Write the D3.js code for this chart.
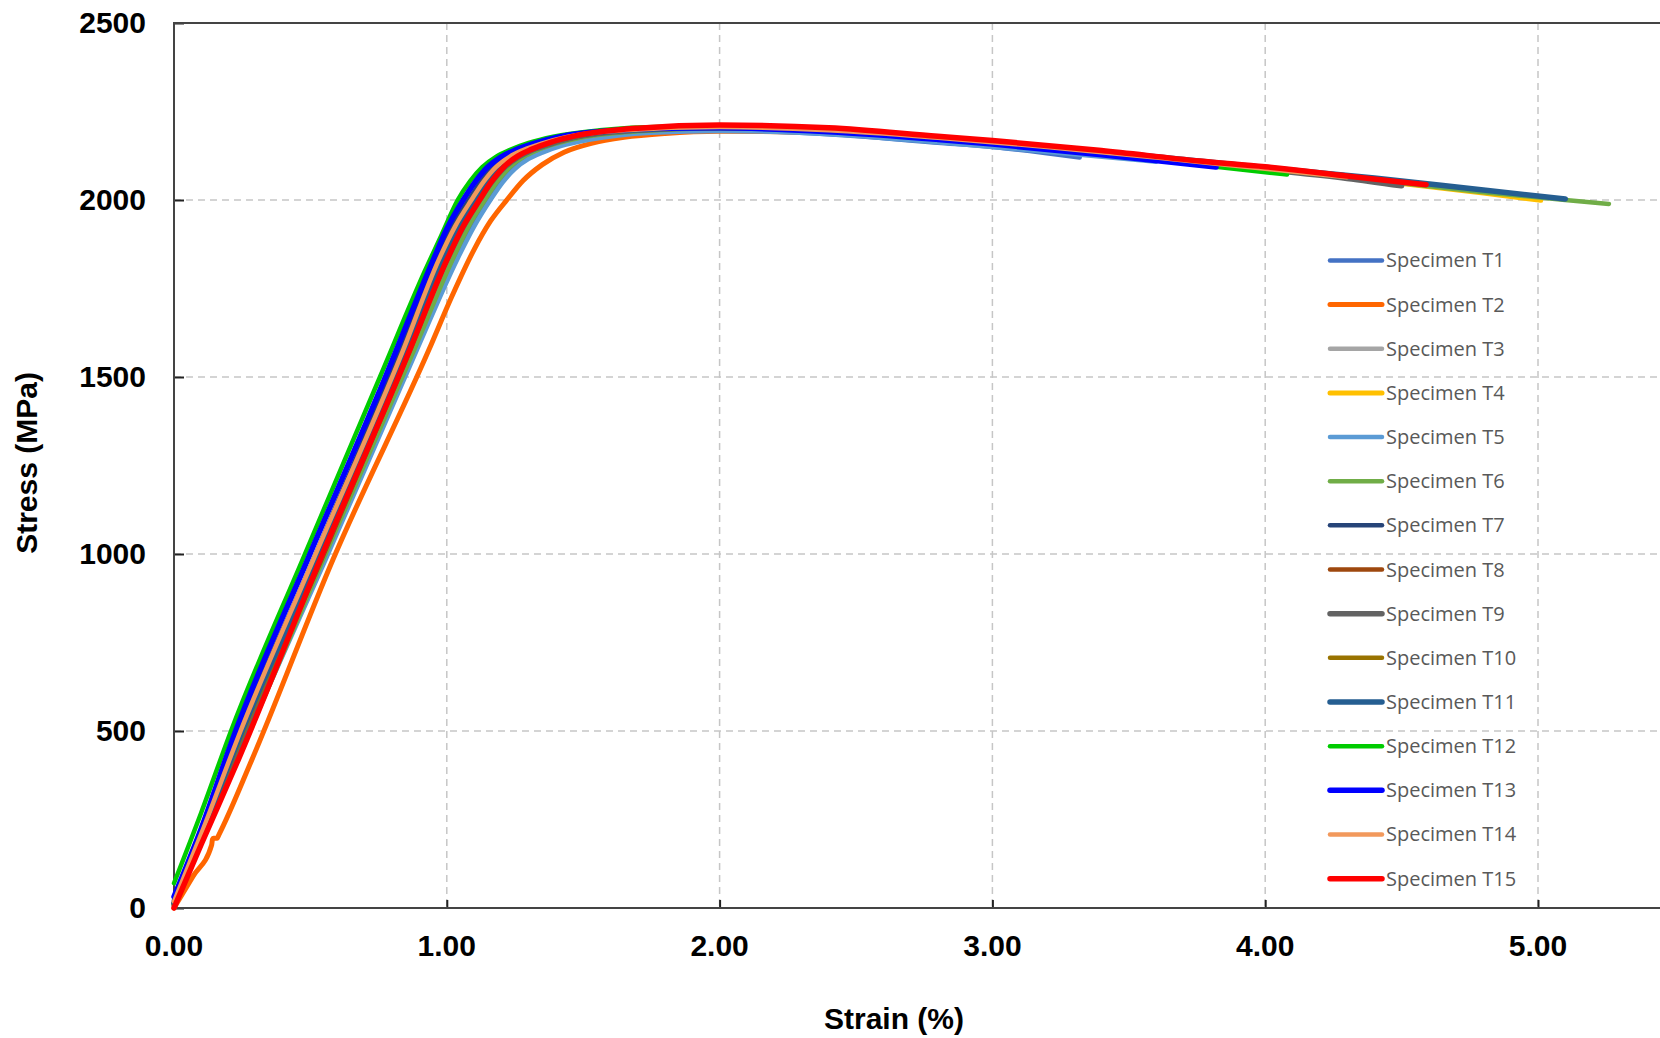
<!DOCTYPE html>
<html>
<head>
<meta charset="utf-8">
<script src="https://cdn.jsdelivr.net/npm/d3@7"></script>
<style>
  body { margin: 0; background: #fff; }
  svg { display: block; }
</style>
</head>
<body>
<svg id="chart" width="1660" height="1038"></svg>
<script>
// [strain %, stress MPa]
const T1 = [[0,5],[0.1,190],[0.27,500],[0.55,983],[0.885,1576],[1.03,1830],[1.09,1925],[1.15,2000],[1.195,2050],[1.24,2089],[1.29,2117],[1.34,2135],[1.41,2154],[1.5,2170],[1.74,2190],[2.0,2196],[2.4,2186],[2.8,2162],[3.0,2150],[3.32,2120]];
const T2 = [[0,0],[0.07,90],[0.138,178],[0.141,194],[0.145,197],[0.158,197],[0.164,206],[0.285,418],[0.582,983],[0.934,1576],[1.02,1730],[1.1,1860],[1.16,1940],[1.22,2000],[1.28,2055],[1.35,2100],[1.43,2135],[1.53,2160],[1.65,2177],[1.8,2188],[2.0,2194],[2.4,2190],[2.8,2170],[3.2,2144],[3.7,2108]];
const T3 = [[0,12],[0.1,198],[0.262,500],[0.54,983],[0.87,1576],[1.01,1830],[1.07,1925],[1.13,2000],[1.175,2051],[1.22,2091],[1.27,2120],[1.32,2139],[1.39,2158],[1.48,2176],[1.7,2195],[2.0,2202],[2.4,2194],[2.8,2172],[3.2,2146],[3.6,2116],[3.9,2094]];
const T4 = [[0,10],[0.1,200],[0.255,500],[0.53,983],[0.855,1576],[0.99,1830],[1.05,1925],[1.11,2000],[1.155,2051],[1.2,2091],[1.25,2120],[1.3,2139],[1.37,2158],[1.46,2176],[1.66,2195],[2.0,2203],[2.4,2195],[2.8,2174],[3.2,2148],[3.6,2119],[4.0,2088],[4.4,2056],[4.8,2020],[5.01,1999]];
const T5 = [[0,4],[0.1,188],[0.275,500],[0.555,983],[0.89,1576],[1.04,1835],[1.1,1925],[1.16,2000],[1.205,2050],[1.25,2088],[1.3,2116],[1.35,2134],[1.42,2153],[1.52,2170],[1.75,2190],[2.0,2195],[2.4,2186],[2.8,2163],[3.2,2136],[3.6,2108]];
const T6 = [[0,8],[0.1,190],[0.278,500],[0.546,983],[0.88,1576],[1.02,1830],[1.08,1925],[1.14,2000],[1.185,2052],[1.23,2092],[1.28,2121],[1.33,2140],[1.4,2159],[1.49,2176],[1.72,2195],[2.0,2203],[2.4,2195],[2.8,2174],[3.2,2148],[3.6,2118],[4.0,2088],[4.4,2056],[4.8,2022],[5.1,2000],[5.26,1989]];
const T7 = [[0,22],[0.1,212],[0.24,500],[0.51,983],[0.83,1576],[0.96,1830],[1.02,1925],[1.08,2000],[1.125,2052],[1.17,2093],[1.22,2122],[1.27,2141],[1.34,2160],[1.43,2178],[1.64,2197],[2.0,2205],[2.4,2197],[2.8,2176],[3.2,2150],[3.6,2120],[4.0,2090],[4.4,2058]];
const T8 = [[0,8],[0.1,195],[0.265,500],[0.54,983],[0.865,1576],[1.0,1830],[1.06,1925],[1.12,2000],[1.165,2052],[1.21,2092],[1.26,2121],[1.31,2140],[1.38,2159],[1.47,2177],[1.68,2196],[2.0,2204],[2.4,2196],[2.8,2174],[3.2,2148],[3.6,2118]];
const T9 = [[0,12],[0.1,200],[0.26,500],[0.535,983],[0.86,1576],[1.0,1830],[1.06,1924],[1.12,2000],[1.165,2051],[1.21,2091],[1.26,2120],[1.31,2140],[1.38,2158],[1.47,2177],[1.68,2196],[2.0,2204],[2.4,2196],[2.8,2174],[3.2,2148],[3.6,2118],[4.0,2086],[4.3,2061],[4.5,2040]];
const T10 = [[0,14],[0.1,202],[0.255,500],[0.53,983],[0.855,1576],[0.99,1830],[1.05,1925],[1.11,2000],[1.155,2052],[1.2,2092],[1.25,2121],[1.3,2140],[1.37,2159],[1.46,2177],[1.66,2196],[2.0,2204],[2.4,2196],[2.8,2175],[3.2,2149],[3.6,2119],[4.0,2089],[4.2,2073]];
const T11 = [[0,15],[0.1,205],[0.25,500],[0.525,983],[0.845,1576],[0.98,1830],[1.04,1925],[1.1,2000],[1.145,2052],[1.19,2093],[1.24,2122],[1.29,2141],[1.36,2160],[1.45,2178],[1.66,2197],[2.0,2205],[2.4,2198],[2.8,2177],[3.2,2151],[3.6,2122],[4.0,2092],[4.4,2062],[4.8,2028],[5.1,2003]];
const T12 = [[0,70],[0.1,270],[0.209,500],[0.48,1000],[0.755,1500],[0.92,1800],[0.98,1900],[1.04,2000],[1.085,2053],[1.13,2093],[1.18,2122],[1.23,2141],[1.3,2161],[1.39,2179],[1.56,2197],[1.8,2207],[2.0,2208],[2.4,2196],[2.8,2174],[3.2,2146],[3.6,2114],[3.82,2094],[4.08,2072]];
const T13 = [[0,32],[0.1,225],[0.226,500],[0.49,985],[0.775,1500],[0.95,1830],[1.0,1918],[1.06,2000],[1.105,2052],[1.15,2093],[1.2,2122],[1.25,2141],[1.32,2160],[1.41,2178],[1.6,2196],[1.8,2203],[2.0,2204],[2.4,2193],[2.8,2171],[3.0,2158],[3.4,2128],[3.82,2093]];
const T14 = [[0,18],[0.1,210],[0.244,500],[0.51,983],[0.84,1576],[0.97,1830],[1.03,1925],[1.09,2000],[1.135,2052],[1.18,2093],[1.23,2122],[1.28,2141],[1.35,2160],[1.44,2178],[1.65,2197],[2.0,2206],[2.4,2197],[2.8,2176],[3.2,2150],[3.6,2120],[4.0,2088],[4.3,2064]];
const T15 = [[0,0],[0.1,180],[0.235,418],[0.535,983],[0.864,1576],[1.0,1830],[1.06,1925],[1.12,2000],[1.165,2053],[1.21,2094],[1.26,2124],[1.31,2143],[1.38,2163],[1.47,2181],[1.7,2203],[2.0,2212],[2.4,2204],[2.8,2180],[3.0,2168],[3.4,2140],[3.76,2110],[4.0,2094],[4.3,2068],[4.59,2043]];

const names = ['Specimen T1','Specimen T2','Specimen T3','Specimen T4','Specimen T5','Specimen T6','Specimen T7','Specimen T8',
  'Specimen T9','Specimen T10','Specimen T11','Specimen T12','Specimen T13','Specimen T14','Specimen T15'];
const xTicks = [0, 1, 2, 3, 4, 5];
const yTicks = [0, 500, 1000, 1500, 2000, 2500];

const curves = [T1, T2, T3, T4, T5, T6, T7, T8, T9, T10, T11, T12, T13, T14, T15];
const colors = ['#4472C4','#FF6600','#A5A5A5','#FFC000','#5B9BD5','#70AD47','#264478','#9E480E',
  '#636363','#997300','#255E91','#00CC00','#0000FF','#F2995C','#FF0000'];
const widths = [4.5, 5, 4.5, 5, 4.5, 4.5, 4.5, 4.5, 5.5, 4.5, 5.5, 4.5, 5.5, 4.5, 5.5];

var svg = d3.select('#chart'),
    plotL = 174, plotT = 23, plotB = 908;

var x = d3.scaleLinear().domain([0, 5]).range([plotL, 1538]);
var y = d3.scaleLinear().domain([0, 2500]).range([plotB, plotT]);

var tickFont = 'bold 30px "Liberation Sans", Arial, sans-serif';

// grid
svg.append('g')
  .selectAll('line')
  .data(yTicks.slice(1, -1))
  .enter().append('line')
  .attr('x1', plotL).attr('x2', 1660)
  .attr('y1', d => y(d)).attr('y2', d => y(d))
  .attr('stroke', '#c6c6c6').attr('stroke-width', 1.5).attr('stroke-dasharray', '7,5');

svg.append('g')
  .selectAll('line')
  .data(xTicks.slice(1))
  .enter().append('line')
  .attr('x1', d => x(d)).attr('x2', d => x(d))
  .attr('y1', plotT).attr('y2', plotB)
  .attr('stroke', '#c6c6c6').attr('stroke-width', 1.5).attr('stroke-dasharray', '7,5');

// axes
var yAxis = svg.append('g')
  .attr('transform', `translate(${plotL},0)`)
  .call(d3.axisRight(y).tickValues(yTicks).tickSize(10).tickFormat(''));
var xAxis = svg.append('g')
  .attr('transform', `translate(0,${plotB})`)
  .call(d3.axisTop(x).tickValues(xTicks).tickSize(8).tickFormat(''));
[yAxis, xAxis].forEach(a => {
  a.select('.domain').remove();
  a.selectAll('.tick line').attr('stroke', '#222').attr('stroke-width', 2);
});

svg.append('path')
  .attr('d', `M1660,${plotT}H${plotL}V${plotB}H1660`)
  .attr('fill', 'none').attr('stroke', '#444').attr('stroke-width', 2);

svg.append('g')
  .selectAll('text')
  .data(yTicks)
  .enter().append('text')
  .attr('x', 146).attr('y', d => y(d) + 10)
  .attr('text-anchor', 'end')
  .style('font', tickFont)
  .text(d => d);

svg.append('g')
  .selectAll('text')
  .data(xTicks)
  .enter().append('text')
  .attr('x', d => x(d)).attr('y', 956)
  .attr('text-anchor', 'middle')
  .style('font', tickFont)
  .text(d => d.toFixed(2));

svg.append('text')
  .attr('x', 894).attr('y', 1029)
  .attr('text-anchor', 'middle')
  .style('font', tickFont)
  .text('Strain (%)');

svg.append('text')
  .attr('transform', 'translate(37,463) rotate(-90)')
  .attr('text-anchor', 'middle')
  .style('font', tickFont)
  .text('Stress (MPa)');

// curves
var line = d3.line()
  .curve(d3.curveMonotoneX)
  .x(d => x(d[0]))
  .y(d => y(d[1]));

svg.append('g')
  .selectAll('path')
  .data(curves)
  .enter().append('path')
  .attr('d', d => line(d))
  .attr('fill', 'none')
  .attr('stroke', (d, i) => colors[i])
  .attr('stroke-width', (d, i) => widths[i])
  .attr('stroke-linejoin', 'round')
  .attr('stroke-linecap', 'round');

// legend
var legend = svg.append('g')
  .selectAll('g')
  .data(names)
  .enter().append('g')
  .attr('transform', (d, i) => `translate(1330,${260.4 + i * 44.16})`);

legend.append('line')
  .attr('x1', 0).attr('x2', 52)
  .attr('stroke', (d, i) => colors[i])
  .attr('stroke-width', (d, i) => widths[i])
  .attr('stroke-linecap', 'round');

legend.append('text')
  .attr('x', 56).attr('y', 7)
  .attr('fill', '#595959')
  .style('font', '20px "Open Sans", sans-serif')
  .text(d => d);
</script>
</body>
</html>
